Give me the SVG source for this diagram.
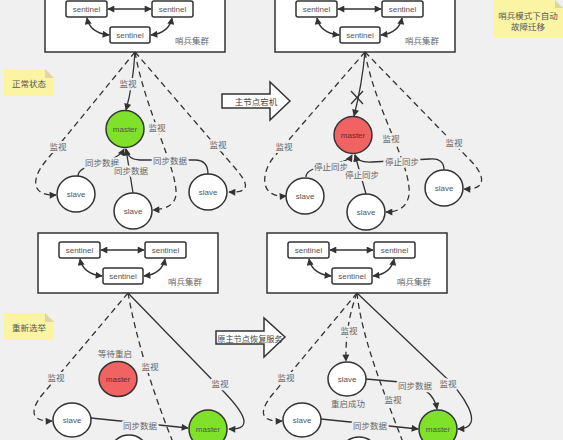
<svg xmlns="http://www.w3.org/2000/svg" width="563" height="440" viewBox="0 0 563 440">
<style>
.bg{fill:#f0f0f0}
.box{fill:#fff;stroke:#333;stroke-width:1.5}
.sen{fill:#fff;stroke:#333;stroke-width:1.5}
.nd{stroke:#333;stroke-width:1.5}
.white{fill:#fff}
.green{fill:#7fe12a}
.red{fill:#f16262}
.en{font-family:"Liberation Sans","Noto Sans",sans-serif;font-size:8px;fill:#555;text-anchor:middle;dominant-baseline:central}
.cn{font-family:"Noto Sans CJK SC",sans-serif;font-size:8.5px;fill:#666;text-anchor:middle;dominant-baseline:central}
.lbl{stroke:#f0f0f0;stroke-width:4px;paint-order:stroke;stroke-linejoin:round}
.ln{fill:none;stroke:#333;stroke-width:1.3}
.dash{stroke-dasharray:6 4}
.note{fill:#fbf4a2}
.fold{fill:#dcd6a8}
.barrow{fill:#fff;stroke:#333;stroke-width:1.5}
</style>
<defs>
<marker id="ah" viewBox="0 0 10 10" refX="9" refY="5" markerWidth="8" markerHeight="7" markerUnits="userSpaceOnUse" orient="auto-start-reverse">
<path d="M0,0 L10,5 L0,10 z" fill="#333"/>
</marker>
</defs>
<rect class="bg" x="0" y="0" width="563" height="440"/>

<!-- Panel 1 -->
<g id="p1-cluster"><rect class="box" x="45" y="-10" width="180" height="62"/><text class="cn" x="192" y="40">哨兵集群</text></g>
<g id="p1-sentinel1"><rect class="sen" x="66" y="1" width="41" height="16" rx="2"/><text class="en" x="86.5" y="9">sentinel</text></g>
<g id="p1-sentinel2"><rect class="sen" x="152" y="1" width="41" height="16" rx="2"/><text class="en" x="172.5" y="9">sentinel</text></g>
<g id="p1-sentinel3"><rect class="sen" x="110" y="27" width="40" height="16" rx="2"/><text class="en" x="130" y="35">sentinel</text></g>
<g id="p1-master"><ellipse class="nd green" cx="125" cy="129" rx="19" ry="18.5"/><text class="en" x="125" y="129">master</text></g>
<g id="p1-slave1"><ellipse class="nd white" cx="76" cy="194" rx="19" ry="18"/><text class="en" x="76" y="194">slave</text></g>
<g id="p1-slave2"><ellipse class="nd white" cx="133" cy="211" rx="19" ry="18"/><text class="en" x="133" y="211">slave</text></g>
<g id="p1-slave3"><ellipse class="nd white" cx="208" cy="192" rx="19" ry="18"/><text class="en" x="208" y="192">slave</text></g>
<g id="note1"><polygon class="note" points="4,69 45,69 54,78 54,96 4,96"/><polygon class="fold" points="45,69 45,78 54,78"/><text class="cn" x="29" y="83" style="fill:#555">正常状态</text></g>
<g id="arrow1"><polygon class="barrow" points="222,94 270,94 270,82 290,101 270,120 270,108 222,108"/><text class="cn" x="256" y="101" style="fill:#444">主节点宕机</text></g>

<!-- Panel 2 -->
<g id="p2-cluster"><rect class="box" x="275" y="-10" width="180" height="62"/><text class="cn" x="422" y="40">哨兵集群</text></g>
<g id="p2-sentinel1"><rect class="sen" x="296" y="1" width="41" height="16" rx="2"/><text class="en" x="316.5" y="9">sentinel</text></g>
<g id="p2-sentinel2"><rect class="sen" x="382" y="1" width="41" height="16" rx="2"/><text class="en" x="402.5" y="9">sentinel</text></g>
<g id="p2-sentinel3"><rect class="sen" x="340" y="27" width="40" height="16" rx="2"/><text class="en" x="360" y="35">sentinel</text></g>
<g id="p2-master"><ellipse class="nd red" cx="353" cy="135" rx="19" ry="18.5"/><text class="en" x="353" y="135" style="fill:#6a2a2a">master</text></g>
<g id="p2-slave1"><ellipse class="nd white" cx="305" cy="196" rx="19" ry="18"/><text class="en" x="305" y="196">slave</text></g>
<g id="p2-slave2"><ellipse class="nd white" cx="366" cy="212" rx="19" ry="18"/><text class="en" x="366" y="212">slave</text></g>
<g id="p2-slave3"><ellipse class="nd white" cx="444" cy="188" rx="19" ry="18"/><text class="en" x="444" y="188">slave</text></g>
<g id="note2"><polygon class="note" points="493,0 555,0 563,8 563,37 493,37"/><polygon class="fold" points="555,0 555,8 563,8"/><text class="cn" x="528" y="15" style="fill:#555">哨兵模式下自动</text><text class="cn" x="528" y="26" style="fill:#555">故障迁移</text></g>

<!-- Panel 3 -->
<g id="p3-cluster"><rect class="box" x="38" y="233" width="180" height="60"/><text class="cn" x="185" y="281">哨兵集群</text></g>
<g id="p3-sentinel1"><rect class="sen" x="59" y="242" width="41" height="16" rx="2"/><text class="en" x="79.5" y="250">sentinel</text></g>
<g id="p3-sentinel2"><rect class="sen" x="145" y="242" width="41" height="16" rx="2"/><text class="en" x="165.5" y="250">sentinel</text></g>
<g id="p3-sentinel3"><rect class="sen" x="103" y="268" width="40" height="16" rx="2"/><text class="en" x="123" y="276">sentinel</text></g>
<g id="p3-oldmaster"><text class="cn" x="115" y="353">等待重启</text><ellipse class="nd red" cx="118" cy="379" rx="19" ry="17.5"/><text class="en" x="118" y="379" style="fill:#6a2a2a">master</text></g>
<g id="p3-slave1"><ellipse class="nd white" cx="72" cy="420" rx="19" ry="17"/><text class="en" x="72" y="420">slave</text></g>
<g id="p3-slave2"><ellipse class="nd white" cx="129" cy="453" rx="19" ry="18"/></g>
<g id="p3-newmaster"><ellipse class="nd green" cx="208" cy="429" rx="19" ry="19"/><text class="en" x="208" y="429">master</text></g>
<g id="note3"><polygon class="note" points="4,313 45,313 54,322 54,340 4,340"/><polygon class="fold" points="45,313 45,322 54,322"/><text class="cn" x="29" y="327" style="fill:#555">重新选举</text></g>
<g id="arrow2"><polygon class="barrow" points="216,331 264,331 264,318 285,337 264,357 264,344 216,344"/><text class="cn" x="250" y="338" style="fill:#444;font-size:8.2px">原主节点恢复服务</text></g>

<!-- Panel 4 -->
<g id="p4-cluster"><rect class="box" x="267" y="233" width="180" height="60"/><text class="cn" x="414" y="281">哨兵集群</text></g>
<g id="p4-sentinel1"><rect class="sen" x="288" y="242" width="41" height="16" rx="2"/><text class="en" x="308.5" y="250">sentinel</text></g>
<g id="p4-sentinel2"><rect class="sen" x="374" y="242" width="41" height="16" rx="2"/><text class="en" x="394.5" y="250">sentinel</text></g>
<g id="p4-sentinel3"><rect class="sen" x="332" y="268" width="40" height="16" rx="2"/><text class="en" x="352" y="276">sentinel</text></g>
<g id="p4-oldmaster"><ellipse class="nd white" cx="347" cy="379" rx="19" ry="17"/><text class="en" x="347" y="379">slave</text><text class="cn" x="348" y="403">重启成功</text></g>
<g id="p4-slave1"><ellipse class="nd white" cx="302" cy="420" rx="19" ry="17"/><text class="en" x="302" y="420">slave</text></g>
<g id="p4-slave2"><ellipse class="nd white" cx="359" cy="455" rx="19" ry="18"/></g>
<g id="p4-master"><ellipse class="nd green" cx="438" cy="429" rx="19" ry="19"/><text class="en" x="438" y="429">master</text></g>

<g id="connectors">
<!-- panel 1 -->
<path class="ln" d="M108 9 L151 9" marker-start="url(#ah)" marker-end="url(#ah)"/>
<path class="ln" d="M87 18 Q90 33 109 35" marker-start="url(#ah)" marker-end="url(#ah)"/>
<path class="ln" d="M172 18 Q169 33 151 35" marker-start="url(#ah)" marker-end="url(#ah)"/>
<path class="ln" d="M135 52 Q133 85 126 110" marker-end="url(#ah)"/>
<path class="ln" d="M78 176 C78 162 115 166 124 149" marker-end="url(#ah)"/>
<path class="ln" d="M133 193 L126 149" marker-end="url(#ah)"/>
<path class="ln" d="M208 174 Q208 160 195 160 L140 160 Q128 160 126 149" marker-end="url(#ah)"/>
<path class="ln dash" d="M135 52 L45 162 C32 178 30 196 56 195" marker-end="url(#ah)"/>
<path class="ln dash" d="M135 52 C145 110 178 170 176 195 Q174 209 153 210" marker-end="url(#ah)"/>
<path class="ln dash" d="M135 52 L235 168 C248 183 252 193 229 192" marker-end="url(#ah)"/>
<!-- panel 2 -->
<path class="ln" d="M338 9 L381 9" marker-start="url(#ah)" marker-end="url(#ah)"/>
<path class="ln" d="M317 18 Q320 33 339 35" marker-start="url(#ah)" marker-end="url(#ah)"/>
<path class="ln" d="M402 18 Q399 33 381 35" marker-start="url(#ah)" marker-end="url(#ah)"/>
<path class="ln" d="M365 52 Q362 85 354 116" marker-end="url(#ah)"/>
<path class="ln" d="M351 91 L363 104 M363 91 L351 104"/>
<path class="ln" d="M306 177 C306 163 345 168 352 155" marker-end="url(#ah)"/>
<path class="ln" d="M366 194 L355 155" marker-end="url(#ah)"/>
<path class="ln" d="M444 170 Q444 158 430 159 L372 162 Q358 163 355 155" marker-end="url(#ah)"/>
<path class="ln dash" d="M365 52 L273 158 C262 172 258 198 286 196" marker-end="url(#ah)"/>
<path class="ln dash" d="M365 52 C375 110 412 165 409 195 Q406 212 386 212" marker-end="url(#ah)"/>
<path class="ln dash" d="M365 52 L470 160 C485 175 488 190 464 189" marker-end="url(#ah)"/>
<!-- panel 3 -->
<path class="ln" d="M101 250 L144 250" marker-start="url(#ah)" marker-end="url(#ah)"/>
<path class="ln" d="M80 259 Q83 274 102 276" marker-start="url(#ah)" marker-end="url(#ah)"/>
<path class="ln" d="M165 259 Q162 274 144 276" marker-start="url(#ah)" marker-end="url(#ah)"/>
<path class="ln dash" d="M128 293 L42 395 C30 410 30 422 52 421" marker-end="url(#ah)"/>
<path class="ln dash" d="M128 293 Q140 360 174 445"/>
<path class="ln" d="M128 293 L225 393 C243 412 255 430 229 429" marker-end="url(#ah)"/>
<path class="ln" d="M91 418 L188 428" marker-end="url(#ah)"/>
<!-- panel 4 -->
<path class="ln" d="M330 250 L373 250" marker-start="url(#ah)" marker-end="url(#ah)"/>
<path class="ln" d="M309 259 Q312 274 331 276" marker-start="url(#ah)" marker-end="url(#ah)"/>
<path class="ln" d="M394 259 Q391 274 373 276" marker-start="url(#ah)" marker-end="url(#ah)"/>
<path class="ln dash" d="M357 293 Q345 325 346 361" marker-end="url(#ah)"/>
<path class="ln dash" d="M357 293 C362 340 385 395 404 445"/>
<path class="ln dash" d="M357 293 L272 395 C260 410 258 422 282 421" marker-end="url(#ah)"/>
<path class="ln" d="M357 293 L440 372 C462 392 488 428 458 429" marker-end="url(#ah)"/>
<path class="ln" d="M366 379 L400 382 Q433 386 437 409" marker-end="url(#ah)"/>
<path class="ln" d="M321 419 L418 429" marker-end="url(#ah)"/>
</g>

<g id="labels">
<text class="cn lbl" x="128" y="83">监视</text>
<text class="cn lbl" x="102" y="162">同步数据</text>
<text class="cn lbl" x="131" y="170">同步数据</text>
<text class="cn lbl" x="170" y="160">同步数据</text>
<text class="cn lbl" x="58" y="146">监视</text>
<text class="cn lbl" x="157" y="127">监视</text>
<text class="cn lbl" x="218" y="144">监视</text>
<text class="cn lbl" x="331" y="166">停止同步</text>
<text class="cn lbl" x="362" y="174">停止同步</text>
<text class="cn lbl" x="402" y="161">停止同步</text>
<text class="cn lbl" x="284" y="146">监视</text>
<text class="cn lbl" x="391" y="138">监视</text>
<text class="cn lbl" x="454" y="142">监视</text>
<text class="cn lbl" x="56" y="377">监视</text>
<text class="cn lbl" x="150" y="366">监视</text>
<text class="cn lbl" x="220" y="383">监视</text>
<text class="cn lbl" x="140" y="425">同步数据</text>
<text class="cn lbl" x="349" y="330">监视</text>
<text class="cn lbl" x="393" y="399">监视</text>
<text class="cn lbl" x="286" y="377">监视</text>
<text class="cn lbl" x="448" y="383">监视</text>
<text class="cn lbl" x="415" y="385">同步数据</text>
<text class="cn lbl" x="370" y="425">同步数据</text>
</g>
</svg>
